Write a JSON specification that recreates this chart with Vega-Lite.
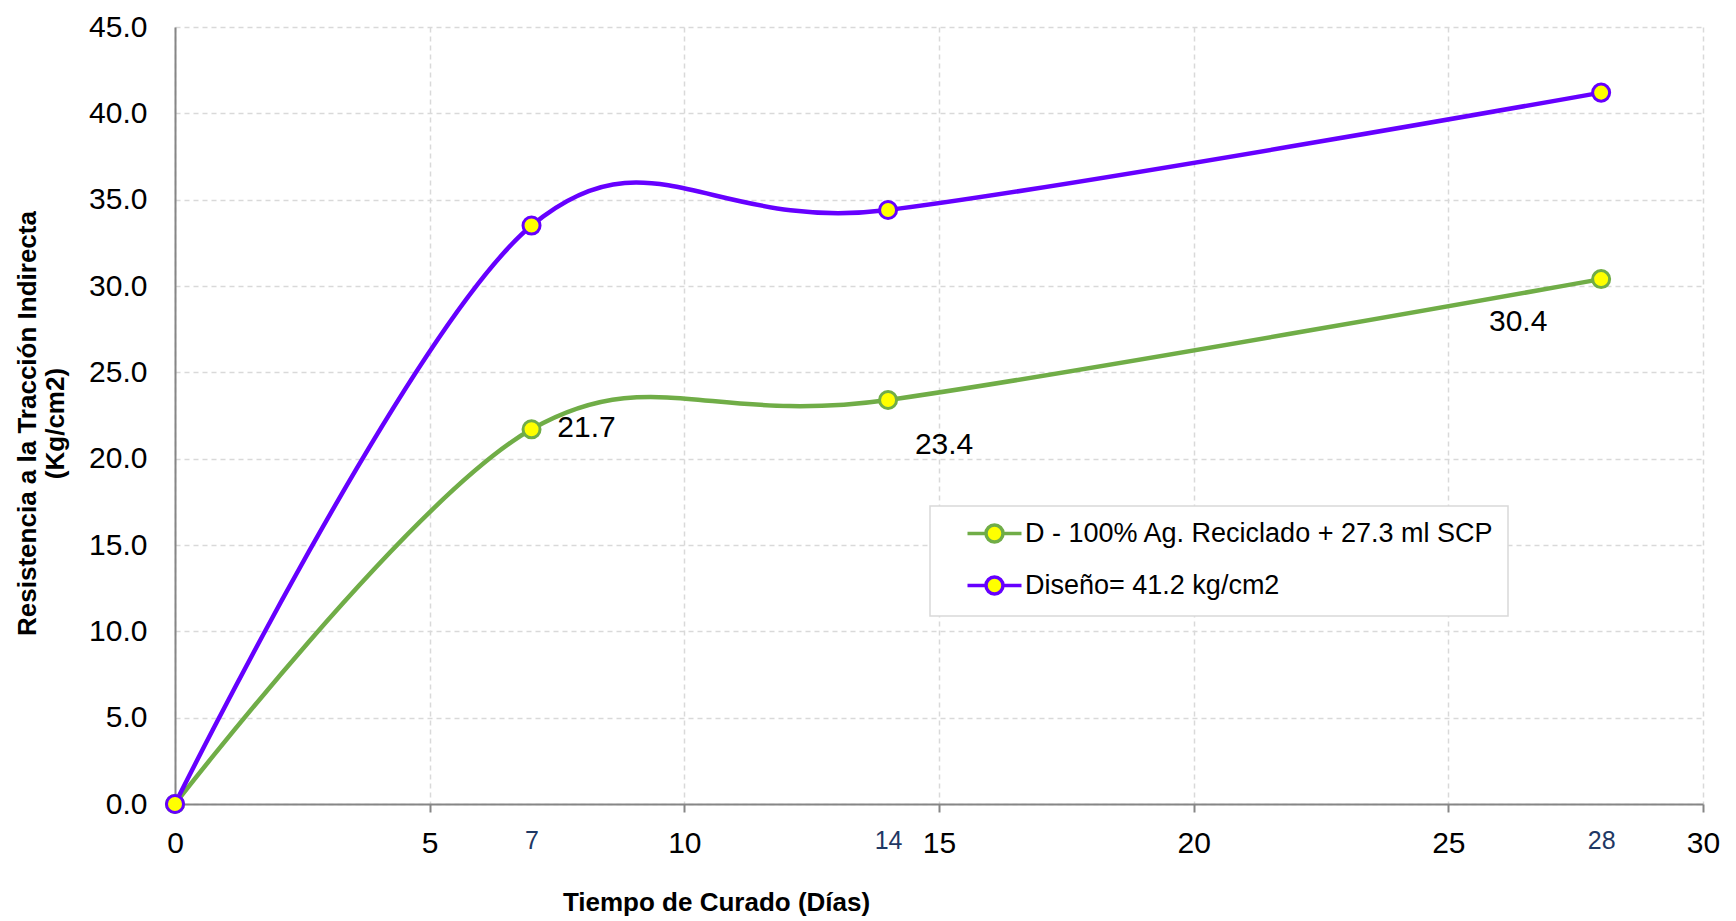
{
  "$schema": "https://vega.github.io/schema/vega-lite/v6.json",
  "width": 1528,
  "height": 777,
  "autosize": "none",
  "padding": {"left": 175, "top": 27, "right": 33, "bottom": 117},
  "background": "#ffffff",
  "config": {
    "view": {"stroke": null},
    "font": "Liberation Sans",
    "legend": {"strokeWidth": 1.5}
  },
  "datasets": {
    "series": [
      {"dia": 0, "resistencia": 0, "serie": "D - 100% Ag. Reciclado + 27.3 ml SCP"},
      {"dia": 7, "resistencia": 21.7, "serie": "D - 100% Ag. Reciclado + 27.3 ml SCP"},
      {"dia": 14, "resistencia": 23.4, "serie": "D - 100% Ag. Reciclado + 27.3 ml SCP"},
      {"dia": 28, "resistencia": 30.4, "serie": "D - 100% Ag. Reciclado + 27.3 ml SCP"},
      {"dia": 0, "resistencia": 0, "serie": "Diseño= 41.2  kg/cm2"},
      {"dia": 7, "resistencia": 33.5, "serie": "Diseño= 41.2  kg/cm2"},
      {"dia": 14, "resistencia": 34.4, "serie": "Diseño= 41.2  kg/cm2"},
      {"dia": 28, "resistencia": 41.2, "serie": "Diseño= 41.2  kg/cm2"}
    ],
    "guias": [{"dia": 7}, {"dia": 14}, {"dia": 28}]
  },
  "encoding": {
    "x": {
      "field": "dia",
      "type": "quantitative",
      "scale": {"domain": [0, 30], "nice": false, "zero": false},
      "axis": {
        "values": [0, 5, 7, 10, 14, 15, 20, 25, 28, 30],
        "format": "d",
        "title": "Tiempo de Curado (Días)",
        "labelFont": "Liberation Sans",
        "labelFontSize": {"condition": {"test": "datum.value === 7 || datum.value === 14 || datum.value === 28", "value": 25}, "value": 30},
        "labelColor": {"condition": {"test": "datum.value === 7 || datum.value === 14 || datum.value === 28", "value": "#1f3864"}, "value": "#000000"},
        "tickOpacity": {"condition": {"test": "datum.value === 7 || datum.value === 14 || datum.value === 28", "value": 0}, "value": 1},
        "gridOpacity": {"condition": {"test": "datum.value === 7 || datum.value === 14 || datum.value === 28", "value": 0}, "value": 1},
        "labelOverlap": false,
        "labelFlush": false,
        "labelPadding": 16,
        "tickSize": 8,
        "tickWidth": 2,
        "tickColor": "#868686",
        "domainColor": "#868686",
        "domainWidth": 2,
        "grid": true,
        "gridColor": "#d9d9d9",
        "gridDash": [5, 4],
        "gridWidth": 1.5,
        "titleFont": "Liberation Sans",
        "titleFontSize": 26,
        "titleFontWeight": "bold",
        "titleColor": "#000000",
        "titleX": 541,
        "titleY": 98,
        "titleBaseline": "middle",
        "titleAlign": "center"
      }
    },
    "y": {
      "field": "resistencia",
      "type": "quantitative",
      "scale": {"domain": [0, 45], "nice": false},
      "axis": {
        "values": [0, 5, 10, 15, 20, 25, 30, 35, 40, 45],
        "format": ".1f",
        "title": ["Resistencia a la Tracción Indirecta", "(Kg/cm2)"],
        "labelFont": "Liberation Sans",
        "labelFontSize": 30,
        "labelColor": "#000000",
        "ticks": false,
        "tickSize": 0,
        "labelPadding": 28,
        "domainColor": "#868686",
        "domainWidth": 2,
        "grid": true,
        "gridColor": "#d9d9d9",
        "gridDash": [5, 4],
        "gridWidth": 1.5,
        "titleFont": "Liberation Sans",
        "titleFontSize": 26,
        "titleFontWeight": "bold",
        "titleColor": "#000000",
        "titleAngle": 270,
        "titleX": -148,
        "titleY": 396,
        "titleBaseline": "middle",
        "titleAlign": "center",
        "titleLineHeight": 28
      }
    }
  },
  "layer": [
    {
      "data": {"name": "guias"},
      "mark": {"type": "rule", "color": "#f4b183", "strokeWidth": 2, "strokeDash": [9, 6]},
      "encoding": {
        "y": {"datum": 0},
        "y2": {"datum": 45}
      }
    },
    {
      "data": {"name": "series"},
      "mark": {"type": "line", "interpolate": "cardinal", "tension": 0, "strokeWidth": 4.5},
      "encoding": {
        "stroke": {
          "field": "serie",
          "type": "nominal",
          "scale": {"domain": ["D - 100% Ag. Reciclado + 27.3 ml SCP", "Diseño= 41.2  kg/cm2"], "range": ["#70ad47", "#6600ff"]},
          "legend": {
            "orient": "none",
            "legendX": 755,
            "legendY": 479,
            "title": null,
            "symbolType": "M-6,0L-1.89,0M1.89,0L6,0M1.89,0A1.89,1.89,0,1,1,-1.89,0A1.89,1.89,0,1,1,1.89,0Z",
            "symbolSize": 81,
            "symbolStrokeWidth": 3.5,
            "symbolFillColor": "#ffff00",
            "symbolOffset": 37,
            "labelOffset": 17,
            "labelFont": "Liberation Sans",
            "labelFontSize": 27,
            "labelColor": "#000000",
            "labelLimit": 0,
            "labelExpr": "datum.label + '\u00a0\u00a0\u00a0'",
            "padding": 14,
            "rowPadding": 19,
            "strokeColor": "#d9d9d9",
            "fillColor": "#ffffff",
            "cornerRadius": 0
          }
        }
      }
    },
    {
      "data": {"name": "series"},
      "mark": {"type": "point", "shape": "circle", "filled": true, "fill": "#ffff00", "size": 290, "strokeWidth": 3, "opacity": 1},
      "encoding": {
        "stroke": {
          "field": "serie",
          "type": "nominal",
          "scale": {"domain": ["D - 100% Ag. Reciclado + 27.3 ml SCP", "Diseño= 41.2  kg/cm2"], "range": ["#70ad47", "#6600ff"]},
          "legend": {
            "orient": "none",
            "legendX": 755,
            "legendY": 479,
            "title": null,
            "symbolType": "M-6,0L-1.89,0M1.89,0L6,0M1.89,0A1.89,1.89,0,1,1,-1.89,0A1.89,1.89,0,1,1,1.89,0Z",
            "symbolSize": 81,
            "symbolStrokeWidth": 3.5,
            "symbolFillColor": "#ffff00",
            "symbolOffset": 37,
            "labelOffset": 17,
            "labelFont": "Liberation Sans",
            "labelFontSize": 27,
            "labelColor": "#000000",
            "labelLimit": 0,
            "labelExpr": "datum.label + '\u00a0\u00a0\u00a0'",
            "padding": 14,
            "rowPadding": 19,
            "strokeColor": "#d9d9d9",
            "fillColor": "#ffffff",
            "cornerRadius": 0
          }
        }
      }
    },
    {
      "data": {"name": "series"},
      "transform": [{"filter": "indexof(datum.serie, 'Ag.') >= 0 && datum.dia === 7"}],
      "mark": {"type": "text", "font": "Liberation Sans", "fontSize": 30, "color": "#000000", "align": "center", "baseline": "middle", "dx": 55, "dy": -1},
      "encoding": {"text": {"field": "resistencia", "type": "quantitative", "format": ".1f"}}
    },
    {
      "data": {"name": "series"},
      "transform": [{"filter": "indexof(datum.serie, 'Ag.') >= 0 && datum.dia === 14"}],
      "mark": {"type": "text", "font": "Liberation Sans", "fontSize": 30, "color": "#000000", "align": "center", "baseline": "middle", "dx": 56, "dy": 45},
      "encoding": {"text": {"field": "resistencia", "type": "quantitative", "format": ".1f"}}
    },
    {
      "data": {"name": "series"},
      "transform": [{"filter": "indexof(datum.serie, 'Ag.') >= 0 && datum.dia === 28"}],
      "mark": {"type": "text", "font": "Liberation Sans", "fontSize": 30, "color": "#000000", "align": "center", "baseline": "middle", "dx": -83, "dy": 43},
      "encoding": {"text": {"field": "resistencia", "type": "quantitative", "format": ".1f"}}
    }
  ]
}
